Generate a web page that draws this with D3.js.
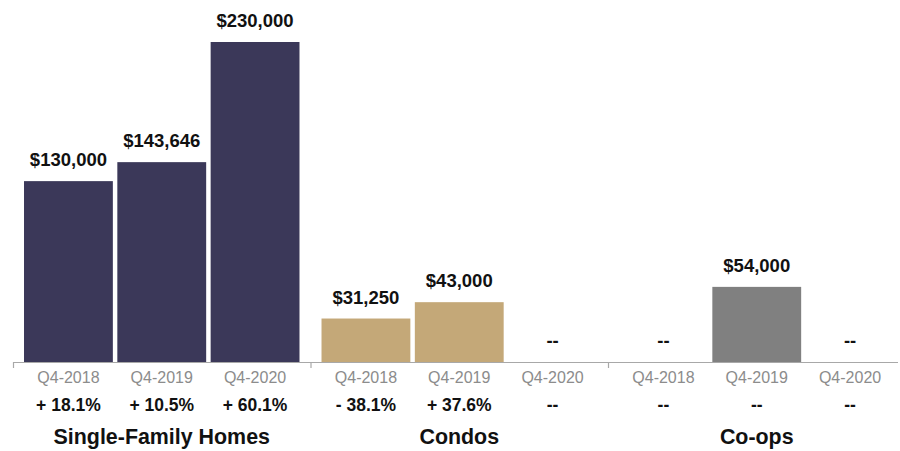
<!DOCTYPE html>
<html>
<head>
<meta charset="utf-8">
<script src="https://cdn.jsdelivr.net/npm/d3@7"></script>
<style>
  html, body { margin: 0; padding: 0; background: #fff; }
  svg { display: block; font-family: "Liberation Sans", Arial, Helvetica, sans-serif; }
</style>
</head>
<body>
<svg id="chart" width="900" height="451"></svg>
<script>
const groups = ["Single-Family Homes", "Condos", "Co-ops"];
const periods = ["Q4-2018", "Q4-2019", "Q4-2020"];
const singleFamilyValues = [130000, 143646, 230000];
const condoValues = [31250, 43000, null];
const coopValues = [null, 54000, null];
const singleFamilyChanges = ["+ 18.1%", "+ 10.5%", "+ 60.1%"];
const condoChanges = ["- 38.1%", "+ 37.6%", "--"];
const coopChanges = ["--", "--", "--"];
const groupColors = ["#3b3859", "#c4a878", "#808080"];

const seriesValues = [singleFamilyValues, condoValues, coopValues];
const seriesChanges = [singleFamilyChanges, condoChanges, coopChanges];

const svg = d3.select("#chart");
const baseY = 362;
const x0 = d3.scaleBand().domain(groups).range([13, 905.5]).padding(0);
const x1 = d3.scaleBand().domain(periods).range([0, x0.bandwidth()])
  .paddingInner(0.048).paddingOuter(0.118);
const y = d3.scaleLinear().domain([0, 230000]).range([baseY, 42]);
const fmt = d3.format("$,");

const rows = [];
groups.forEach((g, gi) => {
  periods.forEach((p, pi) => {
    rows.push({ group: g, gi, period: p, value: seriesValues[gi][pi], change: seriesChanges[gi][pi] });
  });
});

const gBars = svg.append("g");
gBars.selectAll("rect").data(rows.filter(d => d.value != null)).join("rect")
  .attr("x", d => x0(d.group) + x1(d.period))
  .attr("y", d => y(d.value))
  .attr("width", x1.bandwidth())
  .attr("height", d => y(0) - y(d.value))
  .attr("fill", d => groupColors[d.gi]);

svg.append("g").selectAll("text").data(rows).join("text")
  .attr("x", d => x0(d.group) + x1(d.period) + x1.bandwidth() / 2)
  .attr("y", d => y(d.value == null ? 0 : d.value) - 15)
  .attr("text-anchor", "middle")
  .attr("font-size", "18.5px")
  .attr("font-weight", "bold")
  .attr("fill", "#111")
  .text(d => d.value == null ? "--" : fmt(d.value));

// axis line and group boundary ticks
svg.append("line")
  .attr("x1", x0.range()[0]).attr("x2", 898)
  .attr("y1", baseY + 0.5).attr("y2", baseY + 0.5)
  .attr("stroke", "#a8a8a8").attr("stroke-width", 1.2);

const boundaryScale = d3.scaleLinear().domain([0, groups.length]).range(x0.range());
const axis = d3.axisBottom(boundaryScale).tickValues([0, 1, 2]).tickFormat("").tickSize(6).tickSizeOuter(0);
const gAxis = svg.append("g").attr("transform", `translate(0,${baseY})`).call(axis);
gAxis.select(".domain").remove();
gAxis.selectAll(".tick line").attr("stroke", "#a8a8a8").attr("stroke-width", 1.2);

svg.append("g").selectAll("text").data(rows).join("text")
  .attr("x", d => x0(d.group) + x1(d.period) + x1.bandwidth() / 2)
  .attr("y", 383)
  .attr("text-anchor", "middle")
  .attr("font-size", "16px")
  .attr("fill", "#8c8c8c")
  .text(d => d.period);

svg.append("g").selectAll("text").data(rows).join("text")
  .attr("x", d => x0(d.group) + x1(d.period) + x1.bandwidth() / 2)
  .attr("y", 411)
  .attr("text-anchor", "middle")
  .attr("font-size", "17.5px")
  .attr("font-weight", "bold")
  .attr("fill", "#111")
  .text(d => d.change);

svg.append("g").selectAll("text").data(groups).join("text")
  .attr("x", d => x0(d) + x0.bandwidth() / 2)
  .attr("y", 444)
  .attr("text-anchor", "middle")
  .attr("font-size", "21.4px")
  .attr("font-weight", "bold")
  .attr("fill", "#111")
  .text(d => d);
</script>
</body>
</html>
